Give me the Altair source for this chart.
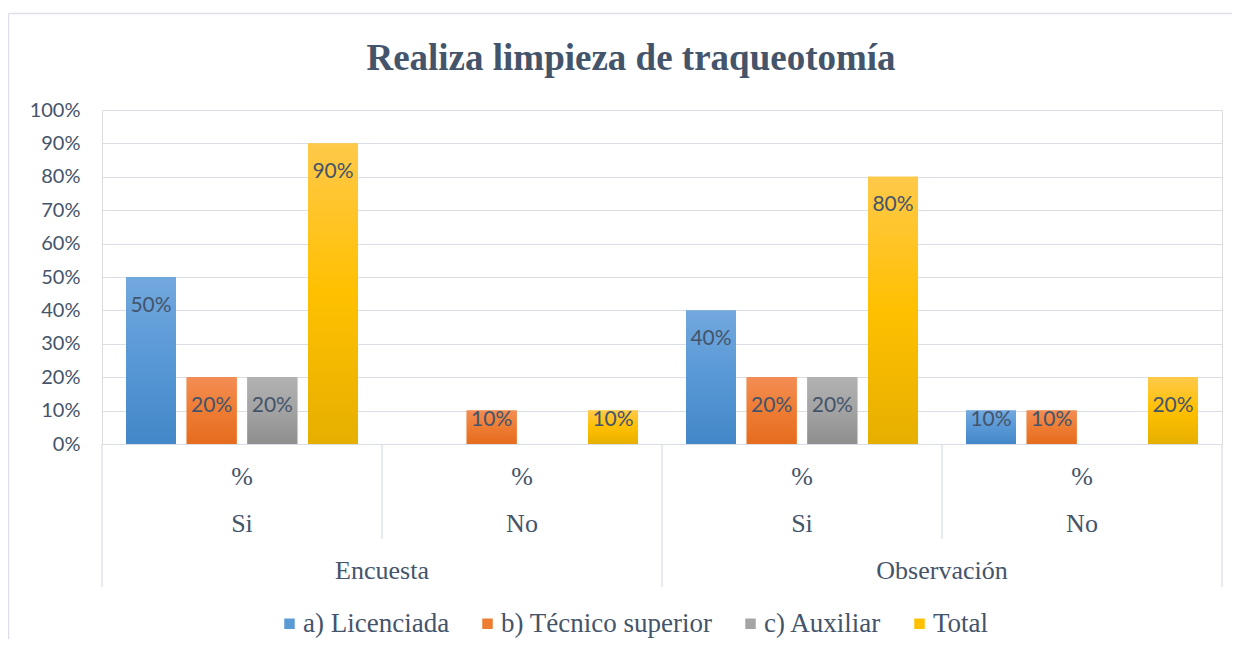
import altair as alt
import pandas as pd

# ---- data ----
surveys = ["Encuesta", "Encuesta", "Observación", "Observación"]
answers = ["Si", "No", "Si", "No"]
unit_labels = ["%", "%", "%", "%"]
series = ["a) Licenciada", "b) Técnico superior", "c) Auxiliar", "Total"]
licenciada = [0.50, 0.00, 0.40, 0.10]
tecnico = [0.20, 0.10, 0.20, 0.10]
auxiliar = [0.20, 0.00, 0.20, 0.00]
total = [0.90, 0.10, 0.80, 0.20]
y_ticks = [0, 0.1, 0.2, 0.3, 0.4, 0.5, 0.6, 0.7, 0.8, 0.9, 1.0]

keys = [f"{s}|{a}" for s, a in zip(surveys, answers)]
values_by_series = dict(zip(series, [licenciada, tecnico, auxiliar, total]))

rows = []
for ser, vals in values_by_series.items():
    for k, s, a, v in zip(keys, surveys, answers, vals):
        rows.append({"key": k, "survey": s, "answer": a, "series": ser, "value": v})
df = pd.DataFrame(rows)
cats = pd.DataFrame({"key": keys, "survey": surveys, "answer": answers, "unit": unit_labels})

solid = ["#5B9BD5", "#ED7D31", "#A5A5A5", "#FFC000"]
grads = {
    "a) Licenciada": ["#72A8DE", "#5898D6", "#4387C8"],
    "b) Técnico superior": ["#F38D54", "#EE7C33", "#E66C1E"],
    "c) Auxiliar": ["#B2B2B2", "#A3A3A3", "#8E8E8E"],
    "Total": ["#FFC94A", "#FFC000", "#E6AF00"],
}

TXT = "#44546A"
GRID = "#DADFE6"
W, H = 1120, 334
SERIF = "Liberation Serif"

x_enc = alt.X("key:N", sort=keys, axis=None,
              scale=alt.Scale(domain=keys, paddingInner=0, paddingOuter=0))
xoff = alt.XOffset("series:N", sort=series,
                   scale=alt.Scale(domain=series, paddingInner=0.176, paddingOuter=0.396))
y_axis = alt.Axis(values=y_ticks, format=".0%", title=None, domain=False,
                  ticks=False, labelPadding=22, gridColor=GRID, labelOverlap=False,
                  labelFont="Lato", labelFontSize=20, labelColor=TXT)
y_enc = alt.Y("value:Q", scale=alt.Scale(domain=[0, 1], nice=False), axis=y_axis)

base = alt.Chart(df)

legend_bars = base.mark_bar().encode(
    x=x_enc, xOffset=xoff, y=y_enc,
    color=alt.Color("series:N", sort=series,
                    scale=alt.Scale(domain=series, range=solid),
                    legend=alt.Legend(title=None, orient="none", direction="horizontal",
                                      legendX=174, legendY=500, symbolType="square",
                                      symbolSize=110, symbolStrokeWidth=0,
                                      labelFont=SERIF, labelFontSize=27,
                                      labelColor=TXT, labelOffset=0, columnPadding=24,
                                      labelLimit=400)),
)

grad_layers = []
for ser in series:
    c = grads[ser]
    g = alt.Gradient(
        gradient="linear",
        stops=[alt.GradientStop(color=c[0], offset=0),
               alt.GradientStop(color=c[1], offset=0.5),
               alt.GradientStop(color=c[2], offset=1)],
        x1=0, x2=0, y1=0, y2=1,
    )
    grad_layers.append(
        base.transform_filter(alt.datum.series == ser)
        .mark_bar(color=g)
        .encode(x=x_enc, xOffset=xoff, y=y_enc)
    )

lbl_big = base.transform_filter(alt.datum.value > 0.1).mark_text(
    font="Lato", fontSize=21, color=TXT, baseline="middle", dy=28.5
).encode(x=x_enc, xOffset=xoff, y=y_enc, text=alt.Text("value:Q", format=".0%"))

lbl_small = base.transform_filter((alt.datum.value > 0) & (alt.datum.value <= 0.1)).mark_text(
    font="Lato", fontSize=21, color=TXT, baseline="middle", dy=9
).encode(x=x_enc, xOffset=xoff, y=y_enc, text=alt.Text("value:Q", format=".0%"))

cb = alt.Chart(cats)
serif = dict(font=SERIF, fontSize=26, color=TXT, baseline="middle")

row_unit = cb.mark_text(**serif).encode(x=x_enc, y=alt.value(367), text="unit:N")
row_ans = cb.mark_text(**serif).encode(x=x_enc, y=alt.value(414), text="answer:N")
row_survey = cb.transform_filter(alt.datum.answer == "No").mark_text(**serif).encode(
    x=alt.X("key:N", sort=keys, axis=None, bandPosition=0), y=alt.value(461), text="survey:N")

rule_long = cb.transform_filter(alt.datum.answer == "Si").mark_rule(color=GRID, strokeWidth=1.3).encode(
    x=alt.X("key:N", sort=keys, axis=None, bandPosition=0), y=alt.value(H), y2=alt.value(477))
rule_end = cb.transform_filter(alt.datum.key == keys[-1]).mark_rule(color=GRID, strokeWidth=1.3).encode(
    x=alt.X("key:N", sort=keys, axis=None, bandPosition=1), y=alt.value(H), y2=alt.value(477))
rule_short = cb.transform_filter(alt.datum.answer == "No").mark_rule(color=GRID, strokeWidth=1.3).encode(
    x=alt.X("key:N", sort=keys, axis=None, bandPosition=0), y=alt.value(H), y2=alt.value(429))

# chart frame (left and top edges)
frame_left = cb.transform_filter(alt.datum.key == keys[0]).mark_rule(color="#DDE1E7", strokeWidth=1.5).encode(
    x=alt.value(-93.5), y=alt.value(-96.5), y2=alt.value(H + 200))
frame_top = cb.transform_filter(alt.datum.key == keys[0]).mark_rule(color="#DDE1E7", strokeWidth=1.5).encode(
    x=alt.value(-93.5), x2=alt.value(W + 20), y=alt.value(-96.5))

chart = alt.layer(
    frame_left, frame_top,
    legend_bars, *grad_layers, lbl_big, lbl_small,
    rule_long, rule_end, rule_short,
    row_unit, row_ans, row_survey,
).properties(
    width=W, height=H,
    title=alt.TitleParams("Realiza limpieza de traqueotomía", font=SERIF,
                          fontSize=37, fontWeight="bold", color=TXT, anchor="middle",
                          baseline="alphabetic", offset=-55.5, dx=-31, dy=39),
    autosize=alt.AutoSizeParams(type="none"),
    padding={"left": 94, "top": 102, "right": 10, "bottom": 195},
).configure_view(stroke=None).configure(background="white").configure_legend(
    labelFont=SERIF, labelFontSize=27, labelColor=TXT
)

chart.save("out.html", embed_options={"renderer": "svg", "actions": False})
